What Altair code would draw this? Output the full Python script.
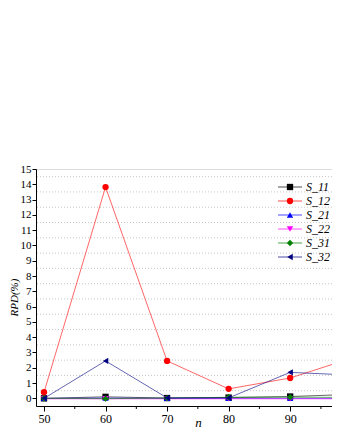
import altair as alt
import pandas as pd

n_vals = [50, 60, 70, 80, 90, 100]
series_names = ["S_11", "S_12", "S_21", "S_22", "S_31", "S_32"]
s11 = [0.0, 0.10, 0.02, 0.05, 0.12, 0.26]
s12 = [0.40, 13.82, 2.45, 0.62, 1.33, 2.63]
s21 = [0.0, 0.02, 0.0, 0.0, 0.0, 0.0]
s22 = [-0.03, -0.03, -0.03, -0.03, -0.03, -0.03]
s31 = [0.0, -0.02, 0.02, 0.07, 0.08, 0.06]
s32 = [0.0, 2.45, 0.03, 0.03, 1.70, 1.52]
colors = ["#000000", "#FF0000", "#0000FF", "#FF00FF", "#008000", "#000080"]
shapes = ["square", "circle", "triangle-up", "triangle-down", "diamond", "triangle-left"]
grid_vals = [i + 0.5 for i in range(15)]
x_ticks = [50, 60, 70, 80, 90]
x_minor = [55, 65, 75, 85, 95]
y_ticks = list(range(16))

rows = []
for name, vals in zip(series_names, [s11, s12, s21, s22, s31, s32]):
    for n, v in zip(n_vals, vals):
        rows.append({"n": n, "v": v, "series": name})
df = pd.DataFrame(rows)
leg = pd.DataFrame({"series": series_names, "idx": list(range(6))})
grid_df = pd.DataFrame({"g": grid_vals})
minor_df = pd.DataFrame({"m": x_minor})

font = "'Liberation Serif', 'DejaVu Serif', serif"
xs = alt.Scale(domain=[48.7, 96.8], nice=False, zero=False)
ys = alt.Scale(domain=[-0.5, 15], nice=False, zero=False)
cs = alt.Scale(domain=series_names, range=colors)
ss = alt.Scale(domain=series_names, range=shapes)

x_axis = alt.Axis(values=x_ticks, title="n", format="d", grid=False,
                  titleFontStyle="italic", titleFontWeight="normal",
                  titleFont=font, titleFontSize=13, labelFont=font,
                  labelFontSize=12, labelColor="#000", titleColor="#000",
                  domainColor="#000", tickColor="#000", tickSize=5,
                  labelPadding=2, titleX=162, titleY=20,
                  titleBaseline="alphabetic", labelOverlap=False)
y_axis = alt.Axis(values=y_ticks, title="RPD(%)", grid=False,
                  titleFontStyle="italic", titleFontWeight="normal",
                  titleFont=font, titleFontSize=11, labelFont=font,
                  labelFontSize=11, labelColor="#000", titleColor="#000",
                  domainColor="#000", tickColor="#000", tickSize=4,
                  labelPadding=1, titleX=-19, titleY=128,
                  titleBaseline="alphabetic", labelOverlap=False)

grid = alt.Chart(grid_df).mark_rule(color="#c8c8c8", strokeDash=[1, 2], strokeWidth=1).encode(
    y=alt.Y("g:Q", scale=ys, axis=y_axis)
)
minor = alt.Chart(minor_df).mark_rule(color="#000", strokeWidth=1).encode(
    x=alt.X("m:Q", scale=xs, axis=x_axis), y=alt.value(237), y2=alt.value(240)
)

layers = [grid, minor]
for i, name in enumerate(series_names):
    sub = df[df.series == name]
    base = alt.Chart(sub).encode(
        x=alt.X("n:Q", scale=xs, axis=x_axis),
        y=alt.Y("v:Q", scale=ys, axis=y_axis),
    )
    line = base.mark_line(color=colors[i], strokeWidth=1, opacity=0.6, clip=True)
    pts = base.mark_point(shape=shapes[i], color=colors[i], filled=True, opacity=1,
                          size=40, clip=True)
    layers += [line, pts]

leg_base = alt.Chart(leg).transform_calculate(py="18 + 14*datum.idx")
leg_line = leg_base.mark_rule(strokeWidth=1, opacity=0.7).encode(
    x=alt.value(242), x2=alt.value(266),
    y=alt.Y("py:Q", scale=None),
    color=alt.Color("series:N", scale=cs, legend=None),
)
leg_pt = leg_base.mark_point(filled=True, size=40, opacity=1).encode(
    x=alt.value(254),
    y=alt.Y("py:Q", scale=None),
    color=alt.Color("series:N", scale=cs, legend=None),
    shape=alt.Shape("series:N", scale=ss, legend=None),
)
leg_txt = leg_base.mark_text(align="left", baseline="middle", font=font, fontSize=12,
                             fontStyle="italic", color="#000").encode(
    x=alt.value(270),
    y=alt.Y("py:Q", scale=None),
    text="series:N",
)

chart = alt.layer(*layers, leg_line, leg_pt, leg_txt).properties(
    width=296, height=237,
    autosize=alt.AutoSizeParams(type="none"),
    padding={"left": 28, "top": 161, "right": 0, "bottom": 24},
).configure_view(stroke=None).configure(background="white", font=font)

chart.save("out.html", embed_options={"renderer": "svg", "actions": False})
